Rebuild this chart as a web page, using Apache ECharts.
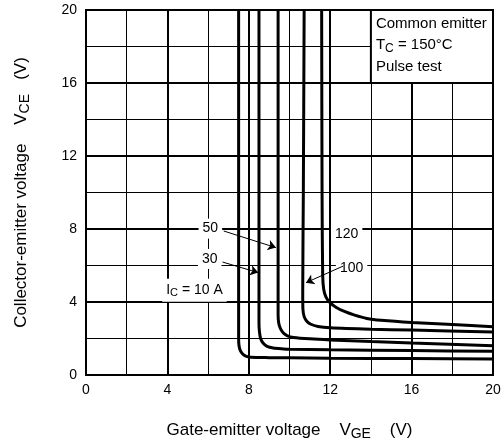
<!DOCTYPE html>
<html><head><meta charset="utf-8">
<script src="https://cdn.jsdelivr.net/npm/echarts@6/dist/echarts.min.js"></script>
<style>html,body{margin:0;padding:0;background:#fff}#c{width:504px;height:446px}</style>
</head><body><div id="c"></div>
<script>
// ---- data ----
const xTicks = [0, 4, 8, 12, 16, 20];
const yTicks = [0, 4, 8, 12, 16, 20];
const ic10  = [[7.5,20],[7.5,2.0],[7.52,1.6],[7.58,1.35],[7.7,1.15],[7.85,1.03],[8.1,0.97],[9,0.95],[10,0.94],[12,0.92],[16,0.9],[20,0.87]];
const ic30  = [[8.5,20],[8.5,2.9],[8.52,2.4],[8.58,2.0],[8.7,1.75],[8.9,1.57],[9.2,1.48],[9.7,1.43],[10,1.41],[12,1.38],[16,1.34],[20,1.3]];
const ic50  = [[9.44,20],[9.44,3.3],[9.47,2.85],[9.55,2.55],[9.7,2.3],[9.9,2.15],[10.2,2.06],[11,1.98],[12,1.92],[14,1.83],[16,1.75],[20,1.6]];
const ic100 = [[10.72,20],[10.68,10],[10.65,4.5],[10.66,3.6],[10.72,3.2],[10.85,2.95],[11.05,2.78],[11.4,2.66],[12,2.59],[14,2.51],[16,2.46],[20,2.36]];
const ic120 = [[11.58,20],[11.6,10],[11.63,5.5],[11.68,4.7],[11.8,4.25],[12.0,3.95],[12.3,3.7],[12.7,3.48],[13.2,3.28],[13.8,3.1],[14.5,3.0],[16,2.88],[18,2.77],[20,2.65]];
const curves = [ic10, ic30, ic50, ic100, ic120];
const labelItems = [[6.11,8.02,'50'],[6.08,6.36,'30'],[5.33,4.64,'I_C = 10 A'],[12.81,7.7,'120'],[13.05,5.83,'100']];
const arrows = [[[6.77,7.89],[9.33,6.98]],[[6.71,6.19],[8.46,5.61]],[[12.64,5.97],[10.81,5.06]]];
const infoBox = [[14,20],[20,16]];
const infoLines = ['Common emitter', 'T_C = 150°C', 'Pulse test'];
const xName = 'Gate-emitter voltage    V_GE    (V)';
const yName = 'Collector-emitter voltage    V_CE   (V)';

// ---- helpers ----
const FONT = '"Liberation Sans", Arial, Helvetica, sans-serif';
function rich(str){ return '{n|' + str.replace(/_(\w+)/g, '}{s|$1}{n|') + '}'; }
function richStyle(size){
  return { n:{fontSize:size, fontFamily:FONT, color:'#000', opacity:1},
           s:{fontSize:Math.round(size*0.8), fontFamily:FONT, color:'#000', opacity:1, padding:[Math.round(size*0.45),0,0,0]} };
}

const chart = echarts.init(document.getElementById('c'), null, {renderer:'canvas'});
const option = {
  animation:false,
  backgroundColor:'#fff',
  grid:{left:86, right:11, top:10, bottom:70, show:true, borderColor:'#000', borderWidth:2, backgroundColor:'transparent'},
  xAxis:[
    {type:'value', min:0, max:20, interval:2,
     name: rich(xName), nameLocation:'middle', nameGap:44, nameTextStyle:{rich:richStyle(17)},
     axisLine:{show:true, lineStyle:{color:'#000', width:2}}, axisTick:{show:false},
     axisLabel:{margin:8, fontSize:14, fontFamily:FONT, color:'#000', formatter:v=> xTicks.includes(v)? String(v):''},
     splitLine:{show:true, lineStyle:{color:'#000', width:1}}},
    {type:'value', min:0, max:20, interval:4, position:'top',
     axisLine:{show:false}, axisTick:{show:false}, axisLabel:{show:false},
     splitLine:{show:true, lineStyle:{color:'#000', width:2}}}
  ],
  yAxis:[
    {type:'value', min:0, max:20, interval:2,
     name: rich(yName), nameLocation:'middle', nameGap:54, nameTextStyle:{rich:richStyle(17)},
     axisLine:{show:true, lineStyle:{color:'#000', width:2}}, axisTick:{show:false},
     axisLabel:{margin:9, fontSize:14, fontFamily:FONT, color:'#000', formatter:v=> yTicks.includes(v)? String(v):''},
     splitLine:{show:true, lineStyle:{color:'#000', width:1}}},
    {type:'value', min:0, max:20, interval:4, position:'right',
     axisLine:{show:false}, axisTick:{show:false}, axisLabel:{show:false},
     splitLine:{show:true, lineStyle:{color:'#000', width:2}}}
  ],
  series: [
    ...curves.map(d => ({type:'line', xAxisIndex:0, yAxisIndex:0, data:d, showSymbol:false, smooth:0.25,
      lineStyle:{color:'#000', width:3}, z:3})),
    {type:'scatter', xAxisIndex:0, yAxisIndex:0, symbolSize:0, z:6,
     itemStyle:{opacity:1, color:'#000'},
     data: labelItems.map(l => ({value:[l[0], l[1]], name:l[2]})),
     label:{show:true, position:'inside', color:'#000', opacity:1, backgroundColor:'#fff', padding:[3,4,3,4],
       formatter:p=> rich(p.name), rich:richStyle(14)},
     markArea:{silent:true, itemStyle:{color:'#fff', opacity:1, borderColor:'#000', borderWidth:2},
       label:{show:true, position:'insideTopLeft', distance:0, padding:[4,0,0,6], lineHeight:21.5, color:'#000',
         formatter: ()=> infoLines.map(rich).join('\n'),
         rich:(()=>{const r=richStyle(15); r.n.lineHeight=21.5; r.s.lineHeight=21.5; return r;})()},
       data:[[{coord:infoBox[0]},{coord:infoBox[1]}]]}},
    {type:'lines', coordinateSystem:'cartesian2d', xAxisIndex:0, yAxisIndex:0, z:7,
     symbol:['none','arrow'], symbolSize:[0,8],
     lineStyle:{color:'#000', width:1, opacity:1},
     data: arrows.map(a => ({coords:a}))}
  ]
};
chart.setOption(option);
</script></body></html>
